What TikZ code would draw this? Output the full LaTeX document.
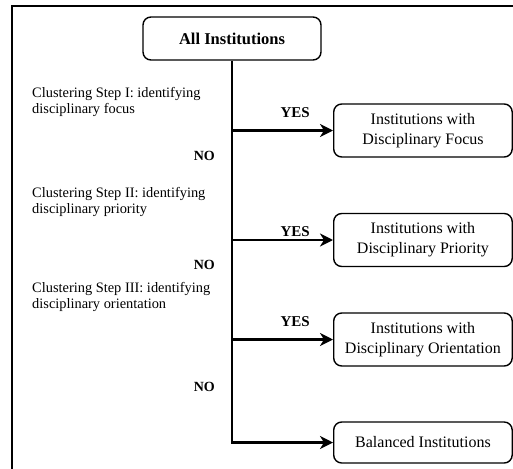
\documentclass[tikz,border=0pt]{standalone}
\usepackage{fontspec}
\setmainfont{Liberation Serif}
\usetikzlibrary{arrows.meta}
\begin{document}
\begin{tikzpicture}[x=1pt,y=-1pt,
  box/.style={draw,line width=1.4pt,rounded corners=8pt,minimum width=178.5pt,
    minimum height=53pt,align=center,inner sep=0pt,
    font=\fontsize{16}{20}\selectfont},
  steptext/.style={anchor=north west,align=left,inner sep=0pt,
    font=\fontsize{14.4}{16}\selectfont},
  yeslabel/.style={anchor=east,inner sep=0pt,font=\bfseries\fontsize{15}{17}\selectfont},
  nolabel/.style={anchor=east,inner sep=0pt,font=\bfseries\fontsize{14}{16}\selectfont},
  conn/.style={line width=2.8pt,-{Stealth[length=13pt,width=13pt,inset=4pt]}}
]
\useasboundingbox (0,0) rectangle (513,468);
% outer frame
\draw[line width=2.2pt,line join=miter] (12,472) -- (12,6) -- (518,6);

% boxes
\node[box,minimum width=178pt,minimum height=43pt,
  font=\bfseries\fontsize{16.5}{18}\selectfont] (all) at (232,38.5) {All Institutions};
\node[box,anchor=west] (b1) at (333,130.5) {Institutions with\\Disciplinary Focus};
\node[box,anchor=west] (b2) at (333,240) {Institutions with\\Disciplinary Priority};
\node[box,anchor=west] (b3) at (333,339.5) {Institutions with\\Disciplinary Orientation};
\node[box,anchor=west,minimum height=41pt] (b4) at (333,442.5) {Balanced Institutions};

% step descriptions
\node[steptext] (s1) at (32,87.2) {Clustering Step I: identifying\\disciplinary focus};
\node[steptext] (s2) at (32,187.2) {Clustering Step II: identifying\\disciplinary priority};
\node[steptext] (s3) at (32,282.2) {Clustering Step III: identifying\\disciplinary orientation};

% connectors
\draw[conn] (all.south) |- (b4.west);
\draw[conn] (all.south |- b1.west) -- (b1.west);
\draw[conn] (all.south |- b2.west) -- (b2.west);
\draw[conn] (all.south |- b3.west) -- (b3.west);

% branch labels
\node[yeslabel] (y1) at (310,113) {YES};
\node[yeslabel] (y2) at (310,232) {YES};
\node[yeslabel] (y3) at (310,322) {YES};
\node[nolabel] (n1) at (215,156) {NO};
\node[nolabel] (n2) at (215,265) {NO};
\node[nolabel] (n3) at (215,387) {NO};
\end{tikzpicture}
\end{document}
